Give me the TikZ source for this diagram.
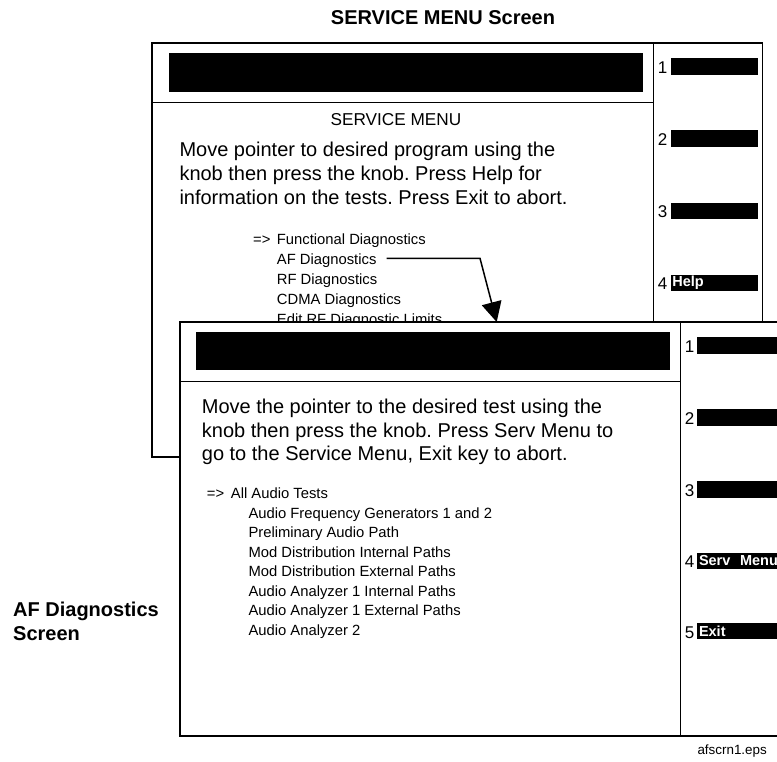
\documentclass[tikz,border=0pt]{standalone}
\usepackage{fontspec}
\setmainfont{Liberation Sans}
\usetikzlibrary{arrows.meta}
\frenchspacing
\begin{document}
\begin{tikzpicture}[x=1pt,y=-1pt,
  frame/.style={line width=1.3pt},
  sepline/.style={line width=1pt},
  para/.style={anchor=base west,inner sep=0pt,font=\fontsize{20}{24}\selectfont},
  item/.style={anchor=base west,inner sep=0pt,font=\fontsize{14.8}{17}\selectfont},
  heading/.style={anchor=base,inner sep=0pt,font=\fontsize{17.2}{20}\selectfont},
  boldlabel/.style={anchor=base west,inner sep=0pt,font=\bfseries\fontsize{20}{24}\selectfont},
  num/.style={anchor=base east,inner sep=0pt,font=\fontsize{17}{19}\selectfont},
  skey/.style={anchor=north west,fill=black,text=white,font=\bfseries\fontsize{14.5}{16}\selectfont,
    minimum height=16.4pt,inner xsep=1.8pt,inner ysep=0pt,text width=#1,align=left},
  skey/.default=84pt,
  pointer/.style={line width=1.5pt,-{Triangle[length=20pt,width=20pt]}}]
\useasboundingbox (0,0) rectangle (777,761);

% title
\node[boldlabel,anchor=base] (title) at (443,24) {SERVICE MENU Screen};

% ---------- top screen ----------
\draw[frame] (152,43) rectangle (762.7,457);
\draw[frame] (653.7,43) -- (653.7,457);
\draw[sepline] (152,102.5) -- (653.7,102.5);
\fill (169,53) rectangle (643,92);

\node[heading] (smhead) at (396,125) {SERVICE MENU};
\node[para] (p1a) at (179.3,156.5) {Move pointer to desired program using the};
\node[para] (p1b) at (179.3,180.5) {knob then press the knob. Press Help for};
\node[para] (p1c) at (179.3,204.5) {information on the tests. Press Exit to abort.};

\node[item] (ptr1) at (253,244) {=>};
\node[item] (fd) at (276.7,244) {Functional Diagnostics};
\node[item] (af) at (276.7,264) {AF Diagnostics};
\node[item] (rf) at (276.7,284) {RF Diagnostics};
\node[item] (cdma) at (276.7,304.3) {CDMA Diagnostics};
\node[item] (edit) at (276.7,324.3) {Edit RF Diagnostic Limits};

\node[num] (n1) at (667.5,73.3) {1};
\node[skey=83.7pt] (k1) at (670.3,58.2) {};
\node[num] (n2) at (667.5,145.5) {2};
\node[skey=83.7pt] (k2) at (670.3,130.2) {};
\node[num] (n3) at (667.5,217.7) {3};
\node[skey=83.7pt] (k3) at (670.3,202.4) {};
\node[num] (n4) at (667.5,289.8) {4};
\node[skey=83.7pt] (k4) at (670.3,274.4) {Help};

% arrow
\coordinate (arrS) at (386.7,258.3);
\coordinate (arrK) at (480,258.3);
\coordinate (tip) at (496.7,322);
\draw[pointer] (arrS) -- (arrK) -- (tip);

% ---------- second screen ----------
\filldraw[frame,fill=white] (180,322) rectangle (800,736);
\draw[frame] (680.5,322) -- (680.5,736);
\draw[sepline] (180,381.3) -- (680.5,381.3);
\fill (196,331.5) rectangle (670,370);

\node[para] (p2a) at (201.7,413.5) {Move the pointer to the desired test using the};
\node[para] (p2b) at (201.7,437) {knob then press the knob. Press Serv Menu to};
\node[para] (p2c) at (201.7,460.5) {go to the Service Menu, Exit key to abort.};

\node[item] (ptr2) at (206.7,498.3) {=>};
\node[item] (aat) at (230.7,498.3) {All Audio Tests};
\node[item] (afg) at (248.3,518) {Audio Frequency Generators 1 and 2};
\node[item] (pap) at (248.3,537.5) {Preliminary Audio Path};
\node[item] (mdi) at (248.3,557) {Mod Distribution Internal Paths};
\node[item] (mde) at (248.3,576.5) {Mod Distribution External Paths};
\node[item] (aai) at (248.3,596) {Audio Analyzer 1 Internal Paths};
\node[item] (aae) at (248.3,615.5) {Audio Analyzer 1 External Paths};
\node[item] (aa2) at (248.3,635) {Audio Analyzer 2};

\node[num] (m1) at (694.5,352.5) {1};
\node[skey] (j1) at (697,337.2) {};
\node[num] (m2) at (694.5,424.5) {2};
\node[skey] (j2) at (697,409.2) {};
\node[num] (m3) at (694.5,496.5) {3};
\node[skey] (j3) at (697,481.2) {};
\node[num] (m4) at (694.5,567.7) {4};
\node[skey] (j4) at (697,552.3) {Serv~ Menu};
\node[num] (m5) at (694.5,638) {5};
\node[skey] (j5) at (697,622.6) {Exit};

% side label and file name
\node[boldlabel] (labA) at (13,616.7) {AF Diagnostics};
\node[boldlabel] (labB) at (13,640.2) {Screen};
\node[anchor=base east,inner sep=0pt,font=\fontsize{13.4}{16}\selectfont] (file) at (767,754) {afscrn1.eps};
\end{tikzpicture}
\end{document}
